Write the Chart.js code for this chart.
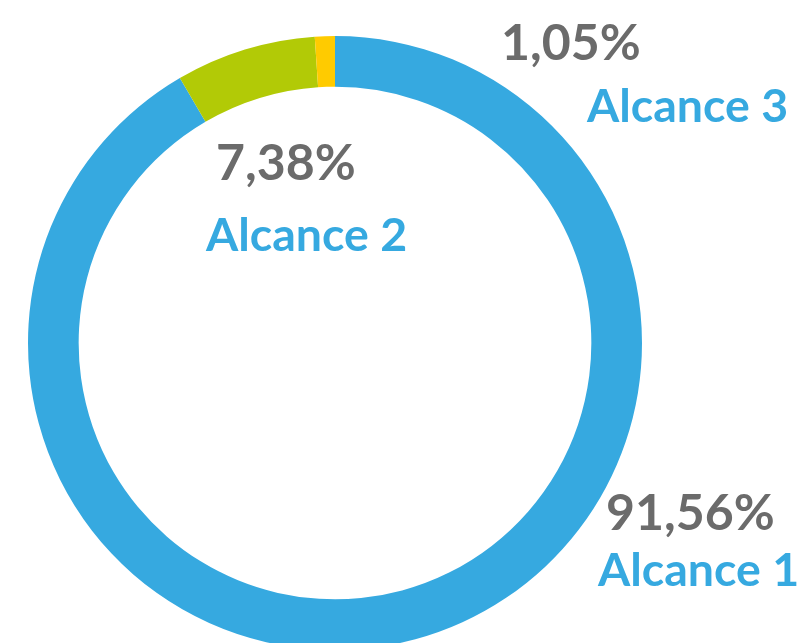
<!DOCTYPE html>
<html>
<head>
<meta charset="utf-8">
<script src="https://cdn.jsdelivr.net/npm/chart.js@4"></script>
<style>
  html, body { margin: 0; padding: 0; background: #fff; overflow: hidden; }
  #wrap { position: relative; width: 800px; height: 643px; overflow: hidden; }
</style>
</head>
<body>
<div id="wrap"><canvas id="chart" width="800" height="700"></canvas></div>
<script>
const labels = ['Alcance 1', 'Alcance 2', 'Alcance 3'];
const shares = [91.56, 7.38, 1.05];
const colors = ['#36a9e0', '#b2ca06', '#ffcb00'];

// where each label block sits: [x of %, baseline of %, x of name, baseline of name]
const labelPos = [
  [606, 530, 598, 586],
  [216, 180, 206, 251],
  [501, 60, 587, 122]
];

const pctText = v => v.toFixed(2).replace('.', ',') + '%';

const labelPlugin = {
  id: 'sliceLabels',
  afterDraw(chart) {
    const ctx = chart.ctx;
    ctx.save();
    ctx.textAlign = 'left';
    ctx.textBaseline = 'alphabetic';
    labels.forEach((name, i) => {
      const [x1, y1, x2, y2] = labelPos[i];
      ctx.fillStyle = '#6b6b6b';
      ctx.font = 'bold 50px Lato';
      ctx.fillText(pctText(shares[i]), x1, y1);
      ctx.fillStyle = '#36a9e0';
      ctx.font = 'bold 46.5px Lato';
      ctx.fillText(name, x2, y2);
    });
    ctx.restore();
  }
};

new Chart(document.getElementById('chart'), {
  type: 'doughnut',
  data: {
    labels: labels,
    datasets: [{
      data: shares,
      backgroundColor: colors,
      borderWidth: 0
    }]
  },
  options: {
    responsive: false,
    animation: false,
    cutout: '83.5%',
    layout: { padding: { left: 28, right: 158, top: 36, bottom: 50 } },
    plugins: {
      legend: { display: false },
      tooltip: { enabled: false }
    }
  },
  plugins: [labelPlugin]
});
</script>
</body>
</html>
